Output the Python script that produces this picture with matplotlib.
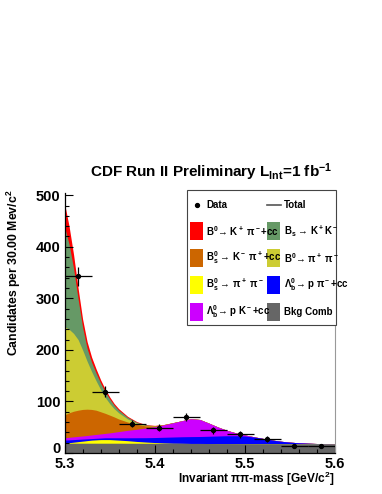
import numpy as np
import matplotlib
matplotlib.use('Agg')
import matplotlib.pyplot as plt
import matplotlib.transforms as mtransforms
from matplotlib.patches import Rectangle
from matplotlib.lines import Line2D
from matplotlib.ticker import MultipleLocator

plt.rcParams['font.family'] = ['Liberation Sans', 'DejaVu Sans']
plt.rcParams['font.weight'] = 'bold'
plt.rcParams['mathtext.fontset'] = 'custom'
plt.rcParams['mathtext.rm'] = 'Liberation Sans:bold'
plt.rcParams['mathtext.it'] = 'Liberation Sans:bold'
plt.rcParams['mathtext.bf'] = 'Liberation Sans:bold'
plt.rcParams['mathtext.sf'] = 'Liberation Sans:bold'

mass = [5.300, 5.305, 5.310, 5.315, 5.320, 5.325, 5.330, 5.335, 5.340, 5.345,
        5.350, 5.355, 5.360, 5.37, 5.38, 5.39, 5.40, 5.41, 5.42, 5.43, 5.44,
        5.45, 5.46, 5.47, 5.48, 5.49, 5.50, 5.51, 5.52, 5.53, 5.54, 5.55,
        5.56, 5.57, 5.58, 5.59, 5.60]

# component yields (stacked, from bottom to top)
bkg_comb = [19, 19, 19, 19, 19, 19, 19, 19, 19, 19, 19, 19, 19,
            18.9, 18.9, 18.8, 18.8, 18.7, 18.6, 18.6, 18.5, 18.5, 18.4, 18.3,
            18.3, 18.2, 18.1, 18.0, 17.9, 17.9, 17.8, 17.7, 17.6, 17.5, 17.4,
            17.3, 17.2]
bs_pipi = [0.5, 1, 2, 3, 4, 5, 6, 6.5, 7, 7, 7, 6.5, 6,
           5, 3.5, 2.5, 1.5, 0.8, 0.4, 0.2, 0, 0, 0, 0, 0, 0, 0, 0, 0, 0, 0,
           0, 0, 0, 0, 0, 0]
lb_ppi = [5.5, 5.5, 5, 4.5, 4, 3.5, 3, 3, 3, 3.5, 3.5, 4, 4.5,
          5.6, 7.2, 8.4, 9.7, 11, 12, 12.7, 13.3, 13.5, 14.1, 14.7, 15.2, 15.3,
          14.9, 13, 10.4, 7.3, 5, 3.3, 2.2, 1.5, 1, 0.6, 0.3]
lb_pk = [4.7, 5, 5.3, 5.7, 6, 6.5, 7, 7.5, 8, 8.5, 9.5, 10.8, 12,
         14.5, 16.4, 18.8, 21, 24, 27.5, 31, 34.7, 33, 25.5, 17.5, 10.5, 5.5,
         2, 0.5, 0, 0, 0, 0, 0, 0, 0, 0, 0]
bs_kpi = [44.3, 47.5, 49.7, 50.8, 51.5, 51, 49.5, 47, 43, 39, 34.5, 29.7, 24.5,
          16, 9.5, 4, 1.5, 0.5, 0.2, 0, 0, 0, 0, 0, 0, 0, 0, 0, 0, 0, 0,
          0, 0, 0, 0, 0, 0]
b0_pipi = [171, 162, 151, 137, 115.5, 93, 73.5, 57, 43, 31, 22.5, 16, 12,
           6, 2.5, 1, 0.3, 0, 0, 0, 0, 0, 0, 0, 0, 0, 0, 0, 0, 0, 0,
           0, 0, 0, 0, 0, 0]
bs_kk = [194, 165, 126, 79, 44, 25, 18, 15, 12.5, 11, 9, 6.7, 5.3,
         3.2, 1.8, 0.7, 0.3, 0, 0, 0, 0, 0, 0, 0, 0, 0, 0, 0, 0, 0, 0,
         0, 0, 0, 0, 0, 0]
b0_kpi = [45, 35, 27, 21, 16, 13, 10, 8, 6.5, 5, 4, 3.3, 2.7,
          1.8, 1.2, 0.8, 0.5, 0.3, 0.2, 0.1, 0, 0, 0, 0, 0, 0, 0, 0, 0, 0, 0,
          0, 0, 0, 0, 0, 0]

# data points (30 MeV bins)
data_x = [5.315, 5.345, 5.375, 5.405, 5.435, 5.465, 5.495, 5.525, 5.555, 5.585]
data_y = [343, 119, 57, 49, 70, 44, 36, 27, 13, 13]
data_err = [18.5, 11, 7.5, 7, 8.5, 6.7, 6, 5.2, 3.6, 3.6]

components = [
    (bkg_comb, '#666666', 'Bkg Comb'),
    (bs_pipi, '#ffff00', 'B$_s^0$ → π$^+$ π$^-$'),
    (lb_ppi, '#0000ff', 'Λ$_b^0$→ p π$^-$+cc'),
    (lb_pk, '#cc00ff', 'Λ$_b^0$→ p K$^-$+cc'),
    (bs_kpi, '#cc6600', 'B$_s^0$ → K$^-$ π$^+$+cc'),
    (b0_pipi, '#cccc33', 'B$^0$→ π$^+$ π$^-$'),
    (bs_kk, '#669966', 'B$_s$ → K$^+$K$^-$'),
    (b0_kpi, '#ff0000', 'B$^0$→ K$^+$ π$^-$+cc'),
]

fig = plt.figure(figsize=(3.82, 4.94), dpi=100)
ax = fig.add_axes([0.169, 0.083, 0.708, 0.526])

x = np.array(mass)
tops = np.cumsum([np.array(c[0], dtype=float) for c in components], axis=0)
# fill from the top layer down so there are no seams between layers
for i in range(len(components) - 1, -1, -1):
    ax.fill_between(x, 0, tops[i], color=components[i][1], lw=0)

ax.errorbar(data_x, data_y, xerr=0.015, yerr=data_err, fmt='o', ms=2.8,
            color='black', elinewidth=0.9, capsize=0, zorder=5)

ax.set_xlim(5.3, 5.6)
ax.set_ylim(0, 504)
ax.xaxis.set_minor_locator(MultipleLocator(0.02))
ax.yaxis.set_major_locator(MultipleLocator(100))
ax.yaxis.set_minor_locator(MultipleLocator(20))
ax.set_xticks([5.3, 5.4, 5.5, 5.6])
ax.set_xticklabels(['5.3', '5.4', '5.5', '5.6'])
ax.set_yticks([0, 100, 200, 300, 400, 500])
ax.set_yticklabels(['0', '100', '200', '300', '400', '500'])
ax.tick_params(axis='both', which='both', direction='in', labelsize=10.5,
               pad=3, width=0.8)
ax.tick_params(axis='y', which='major', length=6)
ax.tick_params(axis='y', which='minor', length=3)
ax.tick_params(axis='x', which='major', length=5.5)
ax.tick_params(axis='x', which='minor', length=3)
for lab in ax.get_xticklabels() + ax.get_yticklabels():
    lab.set_fontweight('bold')
# lift the "0" a little so it sits above the 5.3 label as in the original
zero_lab = ax.get_yticklabels()[0]
zero_lab.set_transform(zero_lab.get_transform() +
                       mtransforms.ScaledTranslation(0, 4 / 72, fig.dpi_scale_trans))
ax.spines['top'].set_visible(False)
ax.spines['right'].set_color('#999999')
ax.spines['left'].set_linewidth(0.9)
ax.spines['bottom'].set_linewidth(0.9)

fig.text(0.552, 0.642, r'CDF Run II Preliminary L$_{\mathrm{Int}}$=1 fb$^{-1}$',
         ha='center', va='baseline', fontsize=11, fontweight='bold')
fig.text(0.037, 1 - 189 / 494, r'Candidates per 30.00 Mev/c$^{2}$',
         rotation=90, ha='center', va='top', fontsize=8.8, fontweight='bold')
fig.text(335 / 382, 1 - 483 / 494, 'Invariant ππ-mass [GeV/c$^{2}$]',
         ha='right', va='baseline', fontsize=8.6, fontweight='bold')

# legend drawn by hand in figure pixels
W, H = 382.0, 494.0
def fx(px):
    return px / W
def fy(py):
    return 1 - py / H

fig.patches.append(Rectangle((fx(187), fy(325)), fx(336) - fx(187), fy(190) - fy(325),
                             transform=fig.transFigure, facecolor='white',
                             edgecolor='#444444', lw=0.8, zorder=10))
fig.lines.append(Line2D([fx(197)], [fy(205)], marker='o', ms=2.8, color='black',
                        transform=fig.transFigure, zorder=11))
fig.text(fx(206), fy(205), 'Data', ha='left', va='center', fontsize=7,
         fontweight='bold', zorder=11)
fig.lines.append(Line2D([fx(267), fx(281)], [fy(205), fy(205)], color='#555555',
                        lw=1.2, transform=fig.transFigure, zorder=11))
fig.text(fx(284), fy(205), 'Total', ha='left', va='center', fontsize=7,
         fontweight='bold', zorder=11)

legend_order = [7, 6, 4, 5, 1, 2, 3, 0]
rows = [231, 258, 285, 312]
for k, idx in enumerate(legend_order):
    row = rows[k // 2]
    sx = 190 if k % 2 == 0 else 267
    tx = 206 if k % 2 == 0 else 284
    fig.patches.append(Rectangle((fx(sx), fy(row + 9)), fx(13), 18 / H,
                                 transform=fig.transFigure,
                                 facecolor=components[idx][1], edgecolor='none',
                                 zorder=11))
    fig.text(fx(tx), fy(row), components[idx][2], ha='left', va='center',
             fontsize=7, fontweight='bold', zorder=12)

fig.savefig('out.png', dpi=100)
